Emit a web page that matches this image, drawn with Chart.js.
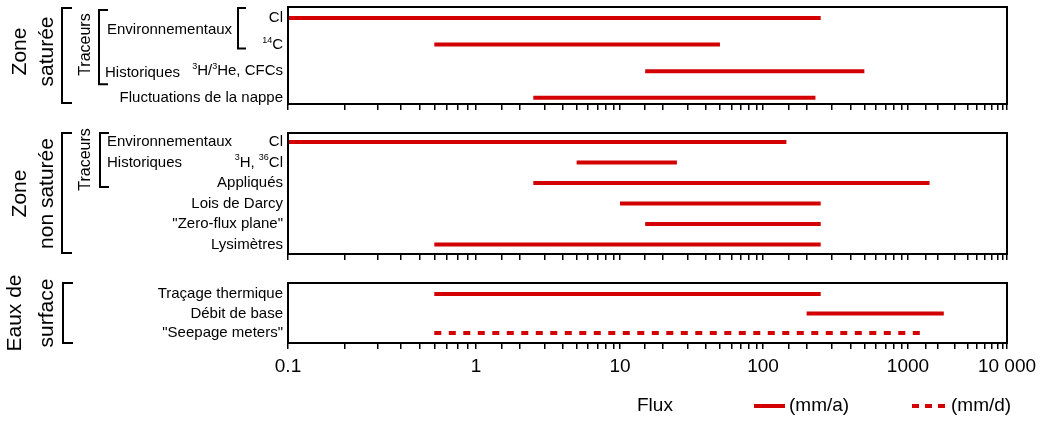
<!DOCTYPE html>
<html>
<head>
<meta charset="utf-8">
<script src="https://cdn.jsdelivr.net/npm/chart.js@4.4.1/dist/chart.umd.min.js"></script>
<style>
html, body { margin: 0; padding: 0; background: #fff; }
#wrap { position: relative; width: 1044px; height: 421px; }
.panel { position: absolute; left: 0; width: 1044px; }
</style>
</head>
<body>
<div id="wrap">
    <div class="panel" style="top:0px;height:120px"><canvas id="c1"></canvas></div>
    <div class="panel" style="top:120px;height:150px"><canvas id="c2"></canvas></div>
    <div class="panel" style="top:270px;height:151px"><canvas id="c3"></canvas></div>
</div>
<script>
// Zone saturée
const satLabels = ['Cl', '^{14}C', '^{3}H/^{3}He, CFCs', 'Fluctuations de la nappe'];
const satLow = [0.1, 0.6, 15, 2.5];
const satHigh = [250, 50, 500, 230];
const satUnit = ['mm/a', 'mm/a', 'mm/a', 'mm/a'];

// Zone non saturée
const unsatLabels = ['Cl', '^{3}H, ^{36}Cl', 'Appliqués', 'Lois de Darcy', '"Zero-flux plane"', 'Lysimètres'];
const unsatLow = [0.1, 5, 2.5, 10, 15, 0.6];
const unsatHigh = [145, 25, 1650, 250, 250, 250];
const unsatUnit = ['mm/a', 'mm/a', 'mm/a', 'mm/a', 'mm/a', 'mm/a'];

// Eaux de surface
const surfLabels = ['Traçage thermique', 'Débit de base', '"Seepage meters"'];
const surfLow = [0.6, 200, 0.6];
const surfHigh = [250, 2300, 1350];
const surfUnit = ['mm/a', 'mm/a', 'mm/d'];

const tickLabels = ['0.1', '1', '10', '100', '1000', '10 000'];
const axisTitle = 'Flux';
const unitLabels = ['(mm/a)', '(mm/d)'];

const RED = 'rgb(210,0,0)';
const FONT = '"Liberation Sans", Arial, Helvetica, sans-serif';
const LABEL_SIZE = 15;

// the printed axis is not a true log axis: each decade has its own width
const decadeWidths = [188, 144, 143, 145, 99];
const decTotal = decadeWidths.reduce((a, b) => a + b, 0);

function warp(lg) {
    const d = lg + 1;
    const i = Math.min(Math.max(Math.floor(d), 0), decadeWidths.length - 1);
    let acc = 0;
    for (let k = 0; k < i; k++) acc += decadeWidths[k];
    return (acc + (d - i) * decadeWidths[i]) / decTotal;
}
function unwarp(dec) {
    let px = dec * decTotal, acc = 0;
    for (let k = 0; k < decadeWidths.length; k++) {
        if (px <= acc + decadeWidths[k] || k === decadeWidths.length - 1) {
            return Math.pow(10, k - 1 + (px - acc) / decadeWidths[k]);
        }
        acc += decadeWidths[k];
    }
}

class WarpLogScale extends Chart.LogarithmicScale {
    getPixelForValue(value) {
        if (value === undefined || value === 0) value = this.min;
        if (value === null || isNaN(value)) return NaN;
        return this.getPixelForDecimal(warp(Math.log10(value)));
    }
    getValueForPixel(pixel) {
        return unwarp(this.getDecimalForPixel(pixel));
    }
}
WarpLogScale.id = 'warpLog';
Chart.register(WarpLogScale);

function parseRich(s) {
    const parts = [];
    const re = /\^\{([^}]*)\}/g;
    let last = 0, m;
    while ((m = re.exec(s))) {
        if (m.index > last) parts.push({ t: s.slice(last, m.index), sup: false });
        parts.push({ t: m[1], sup: true });
        last = re.lastIndex;
    }
    if (last < s.length) parts.push({ t: s.slice(last), sup: false });
    return parts;
}

function drawRich(ctx, s, x, y, size, align) {
    const parts = parseRich(s);
    const fN = size + 'px ' + FONT;
    const fS = (size * 0.6) + 'px ' + FONT;
    let w = 0;
    parts.forEach(p => {
        ctx.font = p.sup ? fS : fN;
        p.w = ctx.measureText(p.t).width;
        w += p.w;
    });
    let cx = align === 'right' ? x - w : x;
    ctx.textAlign = 'left';
    ctx.textBaseline = 'middle';
    parts.forEach(p => {
        ctx.font = p.sup ? fS : fN;
        ctx.fillText(p.t, cx, p.sup ? y - size * 0.3 : y);
        cx += p.w;
    });
}

function vtext(ctx, t, x, y, size) {
    ctx.save();
    ctx.translate(x, y);
    ctx.rotate(-Math.PI / 2);
    ctx.font = size + 'px ' + FONT;
    ctx.textAlign = 'center';
    ctx.textBaseline = 'middle';
    ctx.fillText(t, 0, 0);
    ctx.restore();
}

function bracket(ctx, x, y1, y2, arm) {
    ctx.beginPath();
    ctx.moveTo(x + arm, y1);
    ctx.lineTo(x, y1);
    ctx.lineTo(x, y2);
    ctx.lineTo(x + arm, y2);
    ctx.stroke();
}

function makePanel(canvasId, labels, low, high, units, yMin, yMax, pad, axisH, withLabels, annotate) {
    const datasets = labels.map((lab, i) => ({
        label: lab,
        data: [{ x: low[i], y: i }, { x: high[i], y: i }],
        borderColor: RED,
        borderWidth: 4,
        borderCapStyle: 'butt',
        borderDash: units[i] === 'mm/d' ? [7, 7.5] : [],
        pointRadius: 0,
        fill: false,
        clip: false
    }));

    const framePlugin = {
        id: 'frame',
        afterDraw(chart) {
            const ctx = chart.ctx;
            const a = chart.chartArea;
            const ys = chart.scales.y;
            ctx.save();
            ctx.strokeStyle = '#000';
            ctx.lineWidth = 2;
            ctx.strokeRect(a.left, a.top, a.right - a.left, a.bottom - a.top);
            ctx.fillStyle = '#000';
            labels.forEach((lab, i) => {
                drawRich(ctx, lab, a.left - 5, ys.getPixelForValue(i), LABEL_SIZE, 'right');
            });
            annotate(ctx, a, i => ys.getPixelForValue(i));
            ctx.restore();
        }
    };

    return new Chart(document.getElementById(canvasId), {
        type: 'line',
        data: { datasets: datasets },
        options: {
            responsive: true,
            maintainAspectRatio: false,
            animation: false,
            events: [],
            layout: { padding: pad },
            plugins: { legend: { display: false }, tooltip: { enabled: false } },
            scales: {
                x: {
                    type: 'warpLog',
                    min: 0.1,
                    max: 10000,
                    position: 'bottom',
                    border: { display: true, color: '#000', width: 2 },
                    grid: { drawOnChartArea: false, drawTicks: true, tickLength: 6, color: '#000', lineWidth: 1.5 },
                    ticks: {
                        display: withLabels,
                        autoSkip: false,
                        maxRotation: 0,
                        padding: 6,
                        color: '#000',
                        font: { family: FONT, size: 19 },
                        callback: function (v) {
                            const lg = Math.log10(v);
                            if (Math.abs(lg - Math.round(lg)) > 1e-6) return '';
                            return tickLabels[Math.round(lg) + 1];
                        }
                    },
                    afterFit: function (s) { s.height = axisH; }
                },
                y: {
                    type: 'linear',
                    reverse: true,
                    min: yMin,
                    max: yMax,
                    display: false
                }
            }
        },
        plugins: [framePlugin]
    });
}

makePanel('c1', satLabels, satLow, satHigh, satUnit, -0.414, 3.233,
    { left: 288, right: 37, top: 7, bottom: 8 }, 8, false,
    function (ctx, a, row) {
        const mid = (a.top + a.bottom) / 2 - 4;
        vtext(ctx, 'Zone', 20, mid, 21);
        vtext(ctx, 'saturée', 47, mid, 21);
        bracket(ctx, 62, a.top + 1, a.bottom - 1, 10);
        vtext(ctx, 'Traceurs', 86, (row(0) + row(2)) / 2, 16);
        bracket(ctx, 99, row(0) - 8, row(2) + 13, 9);
        drawRich(ctx, 'Environnementaux', 107, (row(0) + row(1)) / 2 - 1, LABEL_SIZE, 'left');
        bracket(ctx, 238, row(0) - 10, row(1) + 4, 8);
        drawRich(ctx, 'Historiques', 105, row(2) + 2, LABEL_SIZE, 'left');
    });

makePanel('c2', unsatLabels, unsatLow, unsatHigh, unsatUnit, -0.435, 5.46,
    { left: 288, right: 37, top: 13, bottom: 8 }, 8, false,
    function (ctx, a, row) {
        const mid = (a.top + a.bottom) / 2;
        vtext(ctx, 'Zone', 20, mid, 21);
        vtext(ctx, 'non saturée', 47, mid, 21);
        bracket(ctx, 62, a.top, a.bottom - 1, 10);
        vtext(ctx, 'Traceurs', 86, (row(0) + row(2)) / 2 - 3, 16);
        bracket(ctx, 100, row(0) - 9, row(2) + 4, 9);
        drawRich(ctx, 'Environnementaux', 107, row(0), LABEL_SIZE, 'left');
        drawRich(ctx, 'Historiques', 107, row(1), LABEL_SIZE, 'left');
    });

makePanel('c3', surfLabels, surfLow, surfHigh, surfUnit, -0.564, 2.513,
    { left: 288, right: 37, top: 13, bottom: 48 }, 30, true,
    function (ctx, a, row) {
        const mid = (a.top + a.bottom) / 2;
        vtext(ctx, 'Eaux de', 15, mid, 21);
        vtext(ctx, 'surface', 47, mid, 21);
        bracket(ctx, 63, a.top, a.bottom, 10);
        // legend
        const ly = 136;
        ctx.font = '19px ' + FONT;
        ctx.textAlign = 'left';
        ctx.textBaseline = 'middle';
        ctx.fillText(axisTitle, 637, ly);
        ctx.strokeStyle = RED;
        ctx.lineWidth = 4;
        ctx.lineCap = 'butt';
        ctx.beginPath(); ctx.moveTo(754, ly); ctx.lineTo(785, ly); ctx.stroke();
        ctx.setLineDash([7, 6]);
        ctx.beginPath(); ctx.moveTo(912, ly); ctx.lineTo(947, ly); ctx.stroke();
        ctx.setLineDash([]);
        ctx.fillText(unitLabels[0], 789, ly);
        ctx.fillText(unitLabels[1], 951, ly);
    });
</script>
</body>
</html>
